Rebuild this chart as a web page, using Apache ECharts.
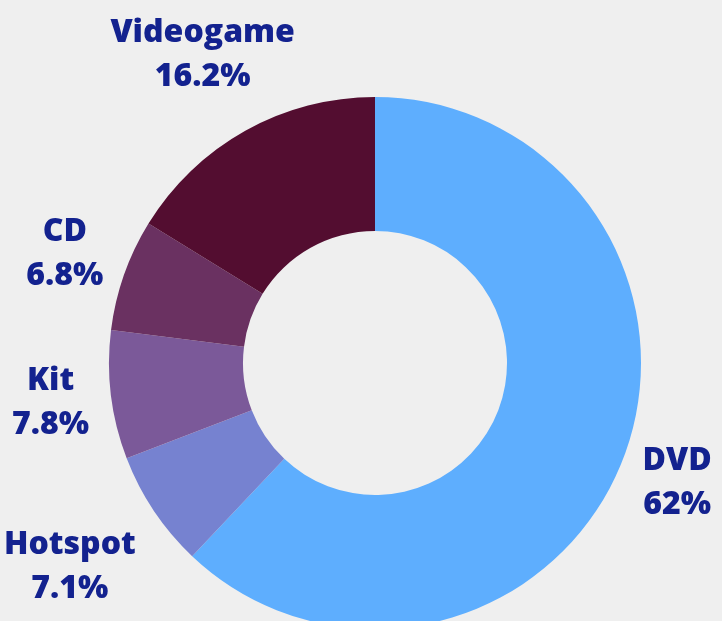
<!DOCTYPE html>
<html>
<head>
<meta charset="utf-8">
<script src="https://cdn.jsdelivr.net/npm/echarts@6/dist/echarts.min.js"></script>
<style>
html,body{margin:0;padding:0;background:#efefef;}
#c{width:722px;height:621px;}
</style>
</head>
<body>
<div id="c"></div>
<script>
const categories = ['DVD', 'Hotspot', 'Kit', 'CD', 'Videogame'];
const values = [62, 7.1, 7.8, 6.8, 16.2];
const colors = ['#5eaefe', '#7682d0', '#7b5999', '#6a3161', '#530d30'];

const CX = 375, CY = 363, R_IN = 132, R_OUT = 266, GAP = 22;
const total = values.reduce((a, b) => a + b, 0);
const midAngles = [];
let acc = 0;
values.forEach(v => { midAngles.push((acc + v / 2) / total * 2 * Math.PI); acc += v; });

const chart = echarts.init(document.getElementById('c'));
chart.setOption({
  backgroundColor: '#efefef',
  animation: false,
  series: [{
    type: 'pie',
    center: [CX, CY],
    radius: [R_IN, R_OUT],
    startAngle: 90,
    clockwise: true,
    data: categories.map((n, i) => ({ name: n, value: values[i], itemStyle: { color: colors[i] } })),
    label: {
      show: true,
      position: 'outside',
      overflow: 'none',
      formatter: p => p.name + '\n' + p.value + '%',
      fontFamily: 'Open Sans',
      fontWeight: 800,
      fontSize: 32,
      lineHeight: 44,
      color: '#13228f',
      align: 'center'
    },
    labelLine: { show: false },
    labelLayout: function (params) {
      const i = params.dataIndex;
      const a = midAngles[i];
      const dx = Math.sin(a), dy = -Math.cos(a);
      const w = params.labelRect.width, h = params.labelRect.height;
      const ext = Math.min(Math.abs(dx) > 1e-6 ? (w / 2) / Math.abs(dx) : 1e9,
                           Math.abs(dy) > 1e-6 ? (h / 2) / Math.abs(dy) : 1e9);
      const extra = i === 4 ? 15 : 0;
      const d = R_OUT + GAP + ext + extra;
      return { x: CX + dx * d, y: CY + dy * d, align: 'center', verticalAlign: 'middle' };
    }
  }]
});
</script>
</body>
</html>
